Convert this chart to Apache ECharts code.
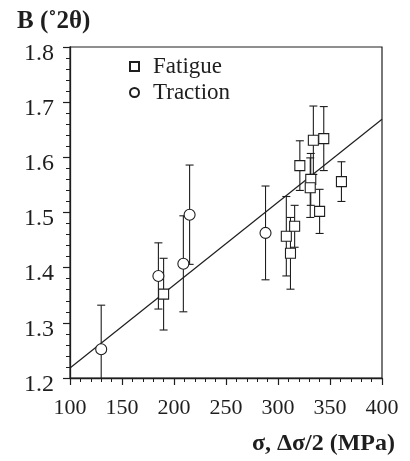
<!DOCTYPE html>
<html>
<head>
<meta charset="utf-8">
<script src="https://cdn.jsdelivr.net/npm/echarts@6/dist/echarts.min.js"></script>
<style>html,body{margin:0;padding:0;background:#fff;}#c{width:410px;height:461px;}</style>
</head>
<body>
<div id="c"></div>
<script>
// ---- data ----
const fatigueX   = [190, 308, 316, 312, 321, 334, 344, 331.5, 331, 340, 361];
const fatigueY   = [1.352, 1.457, 1.475, 1.426, 1.585, 1.631, 1.634, 1.560, 1.545, 1.502, 1.556];
const fatigueErr = [0.065, 0.072, 0.038, 0.065, 0.045, 0.062, 0.058, 0.047, 0.054, 0.040, 0.036];

const tractionX   = [130, 185, 209, 215, 288];
const tractionY   = [1.252, 1.385, 1.407, 1.496, 1.463];
const tractionErr = [0.080, 0.060, 0.087, 0.090, 0.085];

const fitX = [100, 400];
const fitY = [1.218, 1.669];

const xTicks = [100, 150, 200, 250, 300, 350, 400];
const yTicks = [1.2, 1.3, 1.4, 1.5, 1.6, 1.7, 1.8];

// ---- build ----
const ink = '#1e1e1e';
const serif = '"Liberation Serif","DejaVu Serif",serif';
const zipPts = (xs, ys) => xs.map((x, i) => [x, ys[i]]);
const zipErr = (xs, ys, es) => xs.map((x, i) => [x, ys[i], es[i]]);

function errRender(params, api) {
  const x = api.value(0), y = api.value(1), e = api.value(2);
  const t = api.coord([x, y + e]);
  const b = api.coord([x, y - e]);
  const w = 4;
  const st = { stroke: ink, lineWidth: 1.1 };
  return {
    type: 'group',
    children: [
      { type: 'line', shape: { x1: t[0], y1: t[1], x2: b[0], y2: b[1] }, style: st },
      { type: 'line', shape: { x1: t[0] - w, y1: t[1], x2: t[0] + w, y2: t[1] }, style: st },
      { type: 'line', shape: { x1: b[0] - w, y1: b[1], x2: b[0] + w, y2: b[1] }, style: st }
    ]
  };
}

const chart = echarts.init(document.getElementById('c'), null, { renderer: 'canvas' });
chart.setOption({
  animation: false,
  backgroundColor: '#fff',
  title: [
    { text: 'B (˚2θ)', left: 12, top: 4,
      textStyle: { fontFamily: serif, fontSize: 25, fontWeight: 'bold', color: ink } },
    { text: 'σ, Δσ/2 (MPa)', right: 10, top: 427,
      textStyle: { fontFamily: serif, fontSize: 24, fontWeight: 'bold', color: ink } }
  ],
  grid: { left: 70, right: 28, top: 47, bottom: 83, show: true, borderColor: ink, borderWidth: 1.2, backgroundColor: 'transparent' },
  legend: {
    data: ['Fatigue', 'Traction'],
    orient: 'vertical', left: 124, top: 50,
    itemWidth: 9, itemHeight: 9, itemGap: 3,
    textStyle: { fontFamily: serif, fontSize: 23, color: ink, padding: [0, 0, 0, 9] }
  },
  xAxis: {
    type: 'value', min: xTicks[0], max: xTicks[xTicks.length - 1], interval: 50,
    axisLine: { show: true, onZero: false, lineStyle: { color: ink, width: 1.3 } },
    axisTick: { show: true, inside: false, length: 7, lineStyle: { color: ink, width: 1.2 } },
    minorTick: { show: true, splitNumber: 5, length: 4, lineStyle: { color: ink, width: 1 } },
    axisLabel: { fontFamily: serif, fontSize: 22, color: ink, margin: 19 },
    splitLine: { show: false }
  },
  yAxis: {
    type: 'value', min: yTicks[0], max: yTicks[yTicks.length - 1], interval: 0.1,
    axisLine: { show: true, onZero: false, lineStyle: { color: ink, width: 1.3 } },
    axisTick: { show: true, inside: false, length: 7, lineStyle: { color: ink, width: 1.2 } },
    minorTick: { show: true, splitNumber: 5, length: 4, lineStyle: { color: ink, width: 1 } },
    axisLabel: { color: ink, margin: 16,
      formatter: v => '{a|' + v.toFixed(1) + '}',
      rich: { a: { fontFamily: serif, fontSize: 24, color: ink, padding: [13, 0, 0, 0] } } },
    splitLine: { show: false }
  },
  series: [
    { type: 'custom', name: 'fatigueErr', renderItem: errRender, clip: true,
      data: zipErr(fatigueX, fatigueY, fatigueErr), z: 2, silent: true },
    { type: 'custom', name: 'tractionErr', renderItem: errRender, clip: true,
      data: zipErr(tractionX, tractionY, tractionErr), z: 2, silent: true },
    { type: 'line', name: 'fit', data: zipPts(fitX, fitY), showSymbol: false,
      lineStyle: { color: ink, width: 1.2 }, z: 3, silent: true },
    { type: 'scatter', name: 'Fatigue', data: zipPts(fatigueX, fatigueY), symbol: 'rect', symbolSize: 10,
      itemStyle: { color: '#fff', borderColor: ink, borderWidth: 1.1, opacity: 1 }, z: 4 },
    { type: 'scatter', name: 'Traction', data: zipPts(tractionX, tractionY), symbol: 'circle', symbolSize: 11,
      itemStyle: { color: '#fff', borderColor: ink, borderWidth: 1.1, opacity: 1 }, z: 4 }
  ]
});
</script>
</body>
</html>
